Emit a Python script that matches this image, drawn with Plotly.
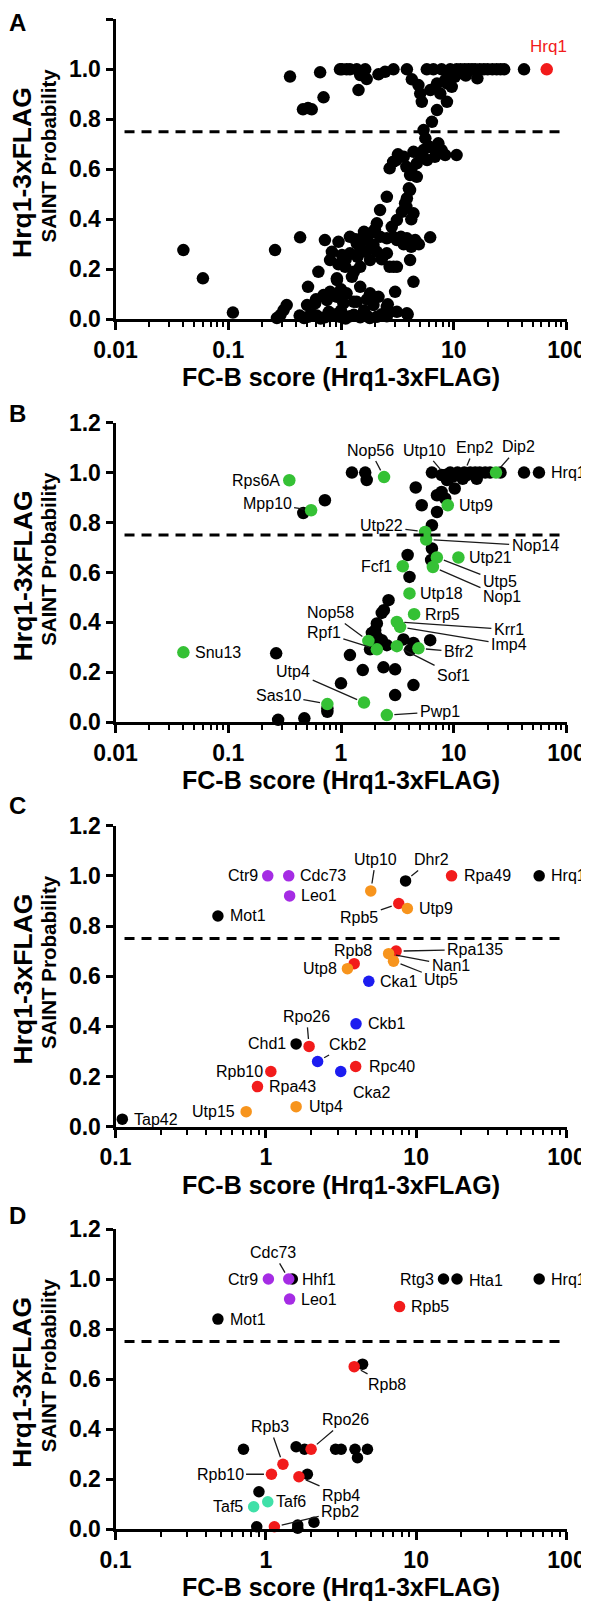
import math
import plotly.graph_objects as go

FONT = "Liberation Sans, Arial, sans-serif"
OFF = 8                      # default page body margin of the html page
W, H = 589 - OFF, 1601 - OFF  # figure size so that figure + body margin fills the window

# ---------------- DATA ----------------
# Panel A: all prey proteins (FC-B score, SAINT probability)
a_x = [0.353, 0.653, 0.98, 1.02, 1.12, 1.2, 1.38, 1.48, 1.64, 1.69, 1.43, 2.15, 2.46, 2.92, 3.84, 4.25,
       4.86, 5.04, 5.21, 5.77, 6.6, 7.8, 9.3, 10.6, 6.2, 7.1, 8.4, 7.6, 8.7, 7.1, 9.6, 6.4, 5.4, 5.6,
       11.5, 12.5, 13.5, 14.5, 15.5, 17, 18.5, 20, 22, 24, 26, 28, 42, 16.2, 11.9, 8.7, 10.2, 12.8, 9.0,
       0.46, 0.51, 0.55, 0.70,
       7.3, 7.8, 6.6, 5.4, 4.4, 3.6, 3.1, 2.7, 3.8, 4.7, 5.8, 6.8, 8.4, 10.6, 4.7, 4.1, 4.0,
       3.2, 2.9, 4.2, 5.1, 6.1, 7.0,
       4.1, 3.84, 3.7, 2.55, 2.22, 3.47, 4.39, 3.13, 2.08, 2.82, 3.8, 4.2,
       1.81, 1.53, 1.38, 1.48, 1.69, 1.94, 2.22, 2.55, 3.13, 3.84, 4.55, 6.18, 0.434, 0.72, 0.95, 0.26,
       0.04, 2.9, 3.4, 4.9, 4.2, 3.6, 1.6, 2.0, 1.2, 1.35,
       0.83, 0.8, 1.02, 1.2, 1.09, 0.92, 1.25, 1.48, 1.81, 2.08, 2.55, 2.92, 3.13, 4.1, 0.63, 0.0596,
       2.7, 1.1, 1.4, 1.65, 0.95, 1.3, 2.3,
       0.51, 0.92, 0.7, 0.92, 1.12, 1.48, 1.81, 2.15, 3.02, 4.39, 0.8, 1.0, 1.3, 1.7, 0.6, 2.6,
       0.33, 0.31, 0.29, 0.5, 0.59, 0.75, 1.05, 1.38, 1.94, 2.55, 3.13, 3.84, 0.11, 0.27,
       0.43, 0.51, 0.61, 0.72, 0.83, 0.98, 1.2, 1.48, 1.69, 2.08, 2.55, 0.47, 0.56, 0.66, 0.9, 1.1,
       1.3, 1.8, 3.9, 2.3, 0.78, 1.0, 1.6]
a_y = [0.971, 0.988, 1.0, 1.0, 1.0, 1.0, 1.0, 0.977, 1.0, 0.961, 0.917, 0.98, 0.99, 1.0, 1.0, 0.96,
       0.937, 0.903, 0.87, 1.0, 1.0, 1.0, 1.0, 1.0, 0.917, 0.943, 0.957, 0.903, 0.87, 0.837, 0.93, 0.79, 0.757, 0.724,
       1.0, 1.0, 1.0, 1.0, 1.0, 1.0, 1.0, 1.0, 1.0, 1.0, 1.0, 1.0, 1.0, 0.964, 0.984, 0.944, 0.97, 0.975, 0.985,
       0.84, 0.845, 0.84, 0.888,
       0.704, 0.677, 0.684, 0.677, 0.67, 0.65, 0.637, 0.604, 0.61, 0.624, 0.637, 0.65, 0.657, 0.657, 0.57, 0.577, 0.524,
       0.66, 0.63, 0.6, 0.65, 0.69, 0.66,
       0.517, 0.484, 0.464, 0.49, 0.437, 0.43, 0.424, 0.397, 0.384, 0.37, 0.45, 0.40,
       0.343, 0.324, 0.304, 0.284, 0.317, 0.297, 0.33, 0.324, 0.317, 0.324, 0.317, 0.328, 0.328, 0.317, 0.31, 0.277,
       0.277, 0.33, 0.33, 0.3, 0.29, 0.3, 0.35, 0.36, 0.33, 0.32,
       0.27, 0.237, 0.257, 0.264, 0.21, 0.164, 0.17, 0.21, 0.237, 0.27, 0.264, 0.21, 0.21, 0.237, 0.19, 0.164,
       0.21, 0.24, 0.25, 0.27, 0.22, 0.19, 0.24,
       0.13, 0.157, 0.097, 0.09, 0.104, 0.13, 0.104, 0.09, 0.11, 0.15, 0.11, 0.12, 0.07, 0.08, 0.08, 0.06,
       0.057, 0.037, 0.017, 0.057, 0.064, 0.077, 0.064, 0.07, 0.057, 0.05, 0.03, 0.024, 0.027, 0.005,
       0.015, 0.01, 0.015, 0.008, 0.015, 0.01, 0.012, 0.008, 0.015, 0.01, 0.012, 0.005, 0.02, 0.003, 0.02, 0.003,
       0.018, 0.005, 0.02, 0.02, 0.03, 0.035, 0.035]
a_bait_x = [66.8]
a_bait_y = [1.0]

# Panel B: SSU processome proteins highlighted (green) among other preys (black)
b_black_x = [0.266, 0.277, 0.473, 0.757, 0.757, 1.0, 1.2, 1.56, 2.64, 2.3, 2.4, 2.08, 2.01, 1.88, 2.08, 2.3,
             2.55, 1.81, 2.3, 1.88, 3.58, 4.39, 4.1, 6.18, 2.38, 3.02, 3.02, 4.39,
             0.463, 0.72, 1.25, 1.64, 1.69,
             6.4, 7.8, 8.7, 9.95, 11.4, 13.1, 10.2, 4.6, 5.2, 7.1, 6.4, 7.8, 8.4, 7.1, 6.4, 6.3, 3.9, 4.05,
             8.4, 9.3, 10.8, 12.4, 14, 15.5, 17, 19, 21, 26, 42, 57, 16, 12, 9.0]
b_black_y = [0.276, 0.01, 0.016, 0.056, 0.042, 0.156, 0.269, 0.209, 0.489, 0.438, 0.449, 0.396, 0.369, 0.358, 0.342, 0.329,
             0.309, 0.292, 0.318, 0.329, 0.332, 0.318, 0.289, 0.329, 0.22, 0.212, 0.109, 0.149,
             0.838, 0.889, 1.0, 1.0, 0.97,
             1.0, 0.99, 0.97, 0.985, 0.99, 0.99, 0.936, 0.94, 0.869, 0.842, 0.789, 0.922, 0.896, 0.909, 0.696, 0.65, 0.67, 0.582,
             0.99, 1.0, 1.0, 1.0, 1.0, 1.0, 1.0, 1.0, 1.0, 1.0, 1.0, 1.0, 0.975, 0.975, 0.975]
b_green_names = ["Snu13", "Rps6A", "Mpp10", "Nop56", "Dip2", "Utp9", "Utp22", "Nop14", "Utp21", "Utp5",
                 "Nop1", "Fcf1", "Utp18", "Rrp5", "Krr1", "Imp4", "Nop58", "Rpf1", "Sof1", "Bfr2",
                 "Utp4", "Sas10", "Pwp1"]
b_green_x = [0.04, 0.348, 0.543, 2.41, 23.7, 8.85, 5.57, 5.69, 11.0, 7.08,
             6.53, 3.53, 4.05, 4.45, 3.13, 3.34, 1.75, 2.08, 3.13, 4.86,
             1.6, 0.757, 2.55]
b_green_y = [0.28, 0.969, 0.849, 0.982, 1.0, 0.869, 0.762, 0.732, 0.66, 0.66,
             0.622, 0.625, 0.516, 0.433, 0.402, 0.382, 0.326, 0.292, 0.305, 0.296,
             0.079, 0.073, 0.029]
b_black_named = {"Utp10": (8.4, 0.99), "Enp2": (12.4, 1.0), "Hrq1": (57, 1.0)}

# Panel C: selected preys coloured by complex
c_names = ["Hrq1", "Mot1", "Dhr2", "Chd1", "Tap42",
           "Ctr9", "Cdc73", "Leo1",
           "Rpa49", "Rpb5", "Rpa135", "Rpb8", "Rpo26", "Rpc40", "Rpb10", "Rpa43",
           "Utp10", "Utp9", "Nan1", "Utp5", "Utp8", "Utp4", "Utp15",
           "Cka1", "Ckb1", "Ckb2", "Cka2"]
c_x = [65.8, 0.48, 8.5, 1.59, 0.111,
       1.03, 1.42, 1.44,
       17.2, 7.66, 7.36, 3.87, 1.94, 3.96, 1.08, 0.88,
       4.99, 8.74, 6.56, 7.07, 3.49, 1.59, 0.74,
       4.84, 3.98, 2.21, 3.15]
c_y = [1.0, 0.84, 0.98, 0.33, 0.03,
       1.0, 1.0, 0.92,
       1.0, 0.89, 0.70, 0.65, 0.32, 0.24, 0.22, 0.16,
       0.94, 0.87, 0.69, 0.66, 0.63, 0.08, 0.06,
       0.58, 0.41, 0.26, 0.22]
c_group = ["other"] * 5 + ["paf"] * 3 + ["rnap"] * 8 + ["utp"] * 7 + ["ck2"] * 4

# Panel D: chromatin / transcription related preys
d_names = ["Hrq1", "Hhf1", "Mot1", "Rtg3", "Hta1", "", "", "", "", "", "", "", "", "", "", "", "", "", "", "",
           "Ctr9", "Cdc73", "Leo1",
           "Rpb5", "Rpb8", "Rpo26", "Rpb3", "Rpb10", "Rpb4", "Rpb2",
           "Taf5", "Taf6"]
d_x = [65.8, 1.5, 0.48, 15.2, 18.7, 4.4, 0.71, 1.59, 1.81, 2.91, 3.17, 3.92, 4.74, 4.07, 1.89, 0.9, 0.87, 1.63, 1.63, 2.09,
       1.04, 1.42, 1.44,
       7.75, 3.87, 2.0, 1.30, 1.09, 1.66, 1.14,
       0.83, 1.03]
d_y = [1.0, 1.0, 0.84, 1.0, 1.0, 0.66, 0.32, 0.33, 0.32, 0.32, 0.32, 0.32, 0.32, 0.286, 0.22, 0.15, 0.01, 0.017, 0.004, 0.028,
       1.0, 1.0, 0.92,
       0.89, 0.65, 0.32, 0.26, 0.22, 0.21, 0.01,
       0.09, 0.11]
d_group = ["other"] * 20 + ["paf"] * 3 + ["rnap"] * 7 + ["taf"] * 2

x_tick_vals_ab = [0.01, 0.1, 1, 10, 100]
x_tick_text_ab = ["0.01", "0.1", "1", "10", "100"]
x_tick_vals_cd = [0.1, 1, 10, 100]
x_tick_text_cd = ["0.1", "1", "10", "100"]
threshold = 0.75
x_title = "FC-B score (Hrq1-3xFLAG)"
y_title_1 = "Hrq1-3xFLAG"
y_title_2 = "SAINT Probability"
panel_letters = ["A", "B", "C", "D"]

# ---------------- STYLE ----------------
COL = {"other": "#000000", "green": "#35c135", "paf": "#a52ce4", "rnap": "#f21b1b",
       "utp": "#f7941d", "ck2": "#1c1cf0", "taf": "#40e0a8"}

# panel plot-area pixel boxes in window pixels (top, bottom)
boxes = [(19.3, 319.3), (422.6, 722.3), (825.7, 1126.7), (1229.0, 1529.3)]
letter_y = [23, 413, 805, 1215]
X0, X1 = 115.5, 566.5

def fx(px):   # window px -> paper x
    return (px - OFF) / W

def fy(py):   # window px -> paper y
    return 1 - (py - OFF) / H

xdom = [fx(X0), fx(X1)]

fig = go.Figure()

def ax_name(i):
    return "" if i == 0 else str(i + 1)

annotations = []
shapes = []

for i, (top, bot) in enumerate(boxes):
    n = ax_name(i)
    ab = i < 2
    lo = -2 if ab else -1
    minor_vals = [m * 10 ** e for e in range(lo, 2) for m in range(2, 10)]
    fig.layout["xaxis" + n] = dict(
        type="log", range=[lo, 2], domain=xdom, anchor="y" + n, automargin=False,
        showline=True, linewidth=3, linecolor="black", mirror=False,
        showgrid=False, zeroline=False,
        ticks="outside", ticklen=8, tickwidth=2.5, tickcolor="black",
        tickmode="array",
        tickvals=x_tick_vals_ab if ab else x_tick_vals_cd,
        ticktext=x_tick_text_ab if ab else x_tick_text_cd,
        tickfont=dict(family=FONT, size=23, color="black", weight="bold"),
        minor=dict(tickmode="array", tickvals=minor_vals, ticks="outside",
                   ticklen=5, tickwidth=2, tickcolor="black", showgrid=False),
        fixedrange=True,
    )
    fig.layout["yaxis" + n] = dict(
        range=[0, 1.2], domain=[fy(bot), fy(top)], anchor="x" + n, automargin=False,
        showline=True, linewidth=3, linecolor="black",
        showgrid=False, zeroline=False,
        ticks="outside", ticklen=7, tickwidth=2.5, tickcolor="black",
        tickmode="linear", tick0=0, dtick=0.2, tickformat=".1f",
        tickfont=dict(family=FONT, size=23, color="black", weight="bold"),
        fixedrange=True,
    )
    xr, yr = "x" + n, "y" + n
    shapes.append(dict(type="line", xref=xr + " domain", yref=yr, x0=0.02, x1=1,
                       y0=threshold, y1=threshold, line=dict(color="black", width=3, dash="10px,7px")))
    annotations.append(dict(text=x_title, xref=xr + " domain", yref=yr + " domain", x=0.5, y=0,
                            yshift=-58, showarrow=False, xanchor="center", yanchor="middle",
                            font=dict(family=FONT, size=25, color="black", weight="bold")))
    annotations.append(dict(text=y_title_1, xref="paper", yref="paper", x=fx(22.5),
                            y=fy(top + 153.2), textangle=-90, showarrow=False,
                            xanchor="center", yanchor="middle",
                            font=dict(family=FONT, size=26.5, color="black", weight="bold")))
    annotations.append(dict(text=y_title_2, xref="paper", yref="paper", x=fx(48.5),
                            y=fy(top + 136.7), textangle=-90, showarrow=False,
                            xanchor="center", yanchor="middle",
                            font=dict(family=FONT, size=20.5, color="black", weight="bold")))
    annotations.append(dict(text=panel_letters[i], xref="paper", yref="paper", x=fx(17),
                            y=fy(letter_y[i]), showarrow=False, xanchor="center", yanchor="middle",
                            font=dict(family=FONT, size=24, color="black", weight="bold")))

def scatter(x, y, color, size, i):
    n = ax_name(i)
    fig.add_trace(go.Scatter(x=x, y=y, mode="markers", xaxis="x" + n, yaxis="y" + n,
                             marker=dict(color=color, size=size, line=dict(width=0)),
                             cliponaxis=False, showlegend=False, hoverinfo="skip"))

LBL = dict(family=FONT, size=16, color="black")

def label(i, name, x, y, kind, a, b=0.0):
    n = ax_name(i)
    base = dict(text=name, xref="x" + n, yref="y" + n, x=math.log10(x), y=y, font=LBL)
    if kind == "R":
        base.update(showarrow=False, xanchor="left", yanchor="middle", xshift=a - 2, yshift=-b)
    elif kind == "L":
        base.update(showarrow=False, xanchor="right", yanchor="middle", xshift=-(a - 2), yshift=-b)
    elif kind == "T":
        base.update(showarrow=False, xanchor="center", yanchor="middle", xshift=a, yshift=-b)
    else:
        base.update(showarrow=True, ax=a, ay=b, arrowhead=0, arrowwidth=1.3,
                    arrowcolor="#1a1a1a", standoff=7.5, startstandoff=1)
    annotations.append(base)

# Panel A
scatter(a_x, a_y, COL["other"], 12.5, 0)
scatter(a_bait_x, a_bait_y, COL["rnap"], 12.5, 0)
annotations.append(dict(text="Hrq1", xref="x", yref="y", x=math.log10(a_bait_x[0]), y=a_bait_y[0],
                        showarrow=False, xanchor="center", yanchor="middle", xshift=2, yshift=23,
                        font=dict(family=FONT, size=17, color=COL["rnap"])))

# Panel B
scatter(b_black_x, b_black_y, COL["other"], 12.5, 1)
scatter(b_green_x, b_green_y, COL["green"], 12.5, 1)
place_b = {"Snu13": ("R", 12), "Rps6A": ("L", 9.5), "Mpp10": ("A", -44, -7), "Nop56": ("A", -14, -27),
           "Dip2": ("A", 22.5, -25.6), "Utp9": ("R", 11), "Utp22": ("A", -43.7, -6),
           "Nop14": ("A", 109, 6.4), "Utp21": ("R", 11), "Utp5": ("A", 63, 24.4), "Nop1": ("A", 69, 30),
           "Fcf1": ("L", 11), "Utp18": ("R", 11), "Rrp5": ("R", 11), "Krr1": ("A", 112, 7.6),
           "Imp4": ("A", 109, 18), "Nop58": ("A", -38, -28), "Rpf1": ("A", -53, -16.6),
           "Sof1": ("A", 56.6, 29), "Bfr2": ("A", 40, 3.4), "Utp4": ("A", -70.7, -31),
           "Sas10": ("A", -49, -9), "Pwp1": ("A", 53, -3.3),
           "Utp10": ("A", -21, -25), "Enp2": ("A", 10, -25), "Hrq1": ("R", 12)}
for nm, xx, yy in zip(b_green_names, b_green_x, b_green_y):
    label(1, nm, xx, yy, *place_b[nm])
for nm, (xx, yy) in b_black_named.items():
    label(1, nm, xx, yy, *place_b[nm])

# Panel C
place_c = {"Ctr9": ("L", 10), "Cdc73": ("R", 11), "Leo1": ("R", 11), "Mot1": ("R", 12),
           "Utp10": ("A", 5, -31.7), "Dhr2": ("A", 25.5, -21), "Rpa49": ("R", 12), "Hrq1": ("R", 11.7),
           "Rpb5": ("A", -39.4, 14.3), "Utp9": ("R", 12), "Rpa135": ("A", 79, -1.5), "Nan1": ("A", 62, 12),
           "Utp5": ("A", 47.7, 18.7), "Rpb8": ("T", -1, -13.5), "Utp8": ("L", 10), "Cka1": ("R", 11),
           "Ckb1": ("R", 12), "Chd1": ("L", 10), "Rpo26": ("A", -2.6, -30), "Ckb2": ("A", 30, -17),
           "Rpc40": ("R", 13), "Cka2": ("A", 31, 21), "Rpb10": ("L", 8), "Rpa43": ("R", 12),
           "Utp4": ("R", 13), "Utp15": ("L", 11), "Tap42": ("R", 12)}
for g in ["other", "paf", "rnap", "utp", "ck2"]:
    xs = [x for x, gg in zip(c_x, c_group) if gg == g]
    ys = [y for y, gg in zip(c_y, c_group) if gg == g]
    scatter(xs, ys, COL[g], 11.5, 2)
for nm, xx, yy in zip(c_names, c_x, c_y):
    label(2, nm, xx, yy, *place_c[nm])

# Panel D
place_d = {"Cdc73": ("A", -15.4, -26.6), "Ctr9": ("L", 10), "Hhf1": ("R", 10), "Leo1": ("R", 11),
           "Mot1": ("R", 12), "Rtg3": ("L", 10), "Hta1": ("R", 12, 1.5), "Hrq1": ("R", 11.7),
           "Rpb5": ("R", 11.6), "Rpb8": ("A", 32.7, 17.7), "Rpo26": ("A", 34.6, -29.3),
           "Rpb3": ("A", -13.2, -37.7), "Rpb10": ("A", -51.4, 0), "Rpb4": ("A", 42, 18.7),
           "Taf5": ("L", 11), "Taf6": ("R", 8.6), "Rpb2": ("A", 65.8, -15.6)}
for g in ["other", "paf", "rnap", "taf"]:
    xs = [x for x, gg in zip(d_x, d_group) if gg == g]
    ys = [y for y, gg in zip(d_y, d_group) if gg == g]
    scatter(xs, ys, COL[g], 11.5, 3)
for nm, xx, yy in zip(d_names, d_x, d_y):
    if nm:
        label(3, nm, xx, yy, *place_d[nm])

fig.update_layout(width=W, height=H, margin=dict(l=0, r=0, t=0, b=0, autoexpand=False),
                  paper_bgcolor="white", plot_bgcolor="white",
                  annotations=annotations, shapes=shapes,
                  font=dict(family=FONT, color="black"))

fig.write_html("out.html")
